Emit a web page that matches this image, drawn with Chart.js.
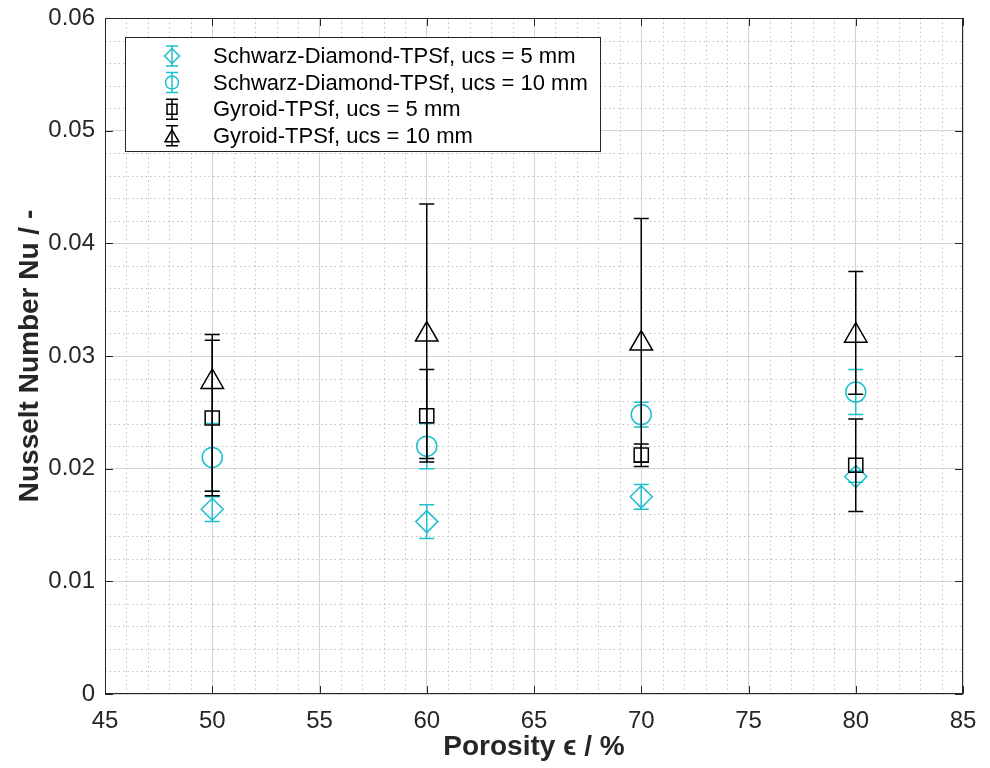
<!DOCTYPE html>
<html>
<head>
<meta charset="utf-8">
<script src="https://cdn.jsdelivr.net/npm/chart.js@4/dist/chart.umd.min.js"></script>
<style>
  html, body { margin: 0; padding: 0; background: #ffffff; }
  #wrap { width: 990px; height: 768px; }
</style>
</head>
<body>
<div id="wrap"><canvas id="nuChart" width="990" height="768"></canvas></div>
<script>
// ---------------------------------------------------- DATA ----------------------------------------------------
const porosity = [50, 60, 70, 80];

const seriesLabels = [
    'Schwarz-Diamond-TPSf, ucs = 5 mm',
    'Schwarz-Diamond-TPSf, ucs = 10 mm',
    'Gyroid-TPSf, ucs = 5 mm',
    'Gyroid-TPSf, ucs = 10 mm'
];

// Schwarz-Diamond, 5 mm
const sd5Nu = [0.0164, 0.0153, 0.0175, 0.0193];
const sd5ErrLow = [0.0011, 0.0015, 0.0011, 0.0005];
const sd5ErrHigh = [0.0011, 0.0015, 0.0011, 0.0005];

// Schwarz-Diamond, 10 mm
const sd10Nu = [0.0210, 0.0220, 0.0248, 0.0268];
const sd10ErrLow = [0.0030, 0.0020, 0.0011, 0.0020];
const sd10ErrHigh = [0.0030, 0.0020, 0.0011, 0.0020];

// Gyroid, 5 mm
const g5Nu = [0.0245, 0.0247, 0.0212, 0.0203];
const g5ErrLow = [0.0069, 0.0041, 0.0010, 0.0041];
const g5ErrHigh = [0.0069, 0.0041, 0.0010, 0.0041];

// Gyroid, 10 mm
const g10Nu = [0.0277, 0.0319, 0.0311, 0.0318];
const g10ErrLow = [0.0097, 0.0110, 0.0105, 0.0052];
const g10ErrHigh = [0.0042, 0.0116, 0.0111, 0.0057];

const xTicks = [45, 50, 55, 60, 65, 70, 75, 80, 85];
const yTicks = [0, 0.01, 0.02, 0.03, 0.04, 0.05, 0.06];

// ---------------------------------------------------- STYLE ----------------------------------------------------
const CYAN = '#1cbfcc';
const BLACK = '#000000';
const AXIS = '#262626';
const FONT = '"Liberation Sans", Arial, Helvetica, sans-serif';

function makeSet(label, values, errLow, errHigh, color, style, radius, order) {
    return {
        label: label,
        data: porosity.map((x, i) => ({x: x, y: values[i]})),
        errLow: errLow,
        errHigh: errHigh,
        showLine: false,
        pointStyle: style,
        pointRadius: radius,
        pointHoverRadius: radius,
        pointBorderWidth: 1.5,
        pointBorderColor: color,
        pointBackgroundColor: 'rgba(0,0,0,0)',
        borderColor: color,
        order: order
    };
}

// ---------------------------------------------------- PLUGINS ----------------------------------------------------
const errorBars = {
    id: 'errorBars',
    afterDatasetDraw(chart, args) {
        const ds = chart.data.datasets[args.index];
        const xs = chart.scales.x, ys = chart.scales.y;
        const ctx = chart.ctx;
        const area = chart.chartArea;
        ctx.save();
        ctx.beginPath();
        ctx.rect(area.left, area.top, area.right - area.left, area.bottom - area.top);
        ctx.clip();
        ctx.strokeStyle = ds.borderColor;
        ctx.lineWidth = 1.5;
        const cap = 7.5;
        ds.data.forEach((p, i) => {
            const px = xs.getPixelForValue(p.x);
            const yHi = ys.getPixelForValue(p.y + ds.errHigh[i]);
            const yLo = ys.getPixelForValue(p.y - ds.errLow[i]);
            ctx.beginPath();
            ctx.moveTo(px, yHi); ctx.lineTo(px, yLo);
            ctx.moveTo(px - cap, yHi); ctx.lineTo(px + cap, yHi);
            ctx.moveTo(px - cap, yLo); ctx.lineTo(px + cap, yLo);
            ctx.stroke();
        });
        ctx.restore();
    }
};

const matlabAxes = {
    id: 'matlabAxes',
    beforeDatasetsDraw(chart) {
        // minor dotted grid
        const ctx = chart.ctx, a = chart.chartArea;
        const xs = chart.scales.x, ys = chart.scales.y;
        ctx.save();
        ctx.strokeStyle = '#c2c2c2';
        ctx.lineWidth = 1;
        ctx.setLineDash([1.5, 3]);
        for (let v = 46; v < 85; v++) {
            if (v % 5 === 0) continue;
            const px = Math.round(xs.getPixelForValue(v)) + 0.5;
            ctx.beginPath(); ctx.moveTo(px, a.top); ctx.lineTo(px, a.bottom); ctx.stroke();
        }
        for (let k = 1; k < 30; k++) {
            if (k % 5 === 0) continue;
            const py = Math.round(ys.getPixelForValue(k * 0.002)) + 0.5;
            ctx.beginPath(); ctx.moveTo(a.left, py); ctx.lineTo(a.right, py); ctx.stroke();
        }
        ctx.restore();
    },
    afterDraw(chart) {
        const ctx = chart.ctx, a = chart.chartArea;
        const xs = chart.scales.x, ys = chart.scales.y;
        ctx.save();
        ctx.strokeStyle = AXIS;
        ctx.lineWidth = 1;
        ctx.beginPath();
        ctx.rect(a.left + 0.5, a.top + 0.5, a.right - a.left - 1, a.bottom - a.top - 1);
        ctx.stroke();
        // inward ticks
        const t = 8;
        ctx.beginPath();
        xTicks.forEach(v => {
            const px = Math.round(xs.getPixelForValue(v)) + 0.5;
            ctx.moveTo(px, a.bottom); ctx.lineTo(px, a.bottom - t);
            ctx.moveTo(px, a.top); ctx.lineTo(px, a.top + t);
        });
        yTicks.forEach(v => {
            const py = Math.round(ys.getPixelForValue(v)) + 0.5;
            ctx.moveTo(a.left, py); ctx.lineTo(a.left + t, py);
            ctx.moveTo(a.right, py); ctx.lineTo(a.right - t, py);
        });
        ctx.stroke();

        // legend box
        const lx = a.left + 20, ly = a.top + 19, lw = 475, lh = 114;
        ctx.fillStyle = '#ffffff';
        ctx.fillRect(lx, ly, lw, lh);
        ctx.strokeStyle = AXIS;
        ctx.strokeRect(lx + 0.5, ly + 0.5, lw, lh);
        ctx.font = '22px ' + FONT;
        ctx.textBaseline = 'middle';
        ctx.textAlign = 'left';
        const legendRadius = [7.5, 6.5, 7, 8];
        chart.data.datasets.forEach((ds, i) => {
            const cy = ly + 19 + i * 26.6;
            const cx = lx + 47;
            ctx.strokeStyle = ds.borderColor;
            ctx.lineWidth = 1.5;
            ctx.beginPath();
            ctx.moveTo(cx, cy - 10); ctx.lineTo(cx, cy + 10);
            ctx.moveTo(cx - 6, cy - 10); ctx.lineTo(cx + 6, cy - 10);
            ctx.moveTo(cx - 6, cy + 10); ctx.lineTo(cx + 6, cy + 10);
            ctx.stroke();
            ctx.fillStyle = 'rgba(0,0,0,0)';
            Chart.helpers.drawPoint(ctx, {
                pointStyle: ds.pointStyle, rotation: 0,
                radius: legendRadius[i], borderWidth: 1.5
            }, cx, ds.pointStyle === 'triangle' ? cy + 2 : cy);
            ctx.fillStyle = '#000000';
            ctx.fillText(ds.label, lx + 88, cy + 1);
        });
        ctx.restore();
    }
};

// ---------------------------------------------------- CHART ----------------------------------------------------
const ctx = document.getElementById('nuChart').getContext('2d');
const nuChart = new Chart(ctx, {
    type: 'scatter',
    data: {
        datasets: [
            makeSet(seriesLabels[0], sd5Nu, sd5ErrLow, sd5ErrHigh, CYAN, 'rectRot', 11, 4),
            makeSet(seriesLabels[1], sd10Nu, sd10ErrLow, sd10ErrHigh, CYAN, 'circle', 10, 3),
            makeSet(seriesLabels[2], g5Nu, g5ErrLow, g5ErrHigh, BLACK, 'rect', 10, 2),
            makeSet(seriesLabels[3], g10Nu, g10ErrLow, g10ErrHigh, BLACK, 'triangle', 13, 1)
        ]
    },
    options: {
        responsive: false,
        animation: false,
        devicePixelRatio: 1,
        layout: { padding: { top: 18, right: 27, left: 0, bottom: 0 } },
        plugins: {
            legend: { display: false },
            tooltip: { enabled: false }
        },
        scales: {
            x: {
                type: 'linear',
                min: 45,
                max: 85,
                afterFit: scale => {
                    scale.height = 74;
                    scale.paddingLeft = 0;
                    scale.paddingRight = 0;
                },
                afterBuildTicks: scale => { scale.ticks = xTicks.map(v => ({value: v})); },
                ticks: {
                    color: AXIS,
                    font: { family: FONT, size: 24 },
                    padding: 13,
                    maxRotation: 0,
                    autoSkip: false
                },
                grid: { color: '#d4d4d4', lineWidth: 1, drawTicks: false },
                border: { display: false },
                title: {
                    display: true,
                    text: 'Porosity \u03f5 / %',
                    color: AXIS,
                    font: { family: FONT, size: 28, weight: 'bold' },
                    padding: { top: 0, bottom: 4 }
                }
            },
            y: {
                type: 'linear',
                min: 0,
                max: 0.06,
                afterFit: scale => {
                    scale.width = 105;
                    scale.paddingTop = 0;
                    scale.paddingBottom = 0;
                },
                afterBuildTicks: scale => { scale.ticks = yTicks.map(v => ({value: v})); },
                ticks: {
                    color: AXIS,
                    font: { family: FONT, size: 24 },
                    padding: 10,
                    callback: v => (v === 0 ? '0' : v.toFixed(2))
                },
                grid: { color: '#d4d4d4', lineWidth: 1, drawTicks: false },
                border: { display: false },
                title: {
                    display: true,
                    text: 'Nusselt Number Nu / -',
                    color: AXIS,
                    font: { family: FONT, size: 28, weight: 'bold' },
                    padding: { top: 13, bottom: 0 }
                }
            }
        }
    },
    plugins: [errorBars, matlabAxes]
});
</script>
</body>
</html>
